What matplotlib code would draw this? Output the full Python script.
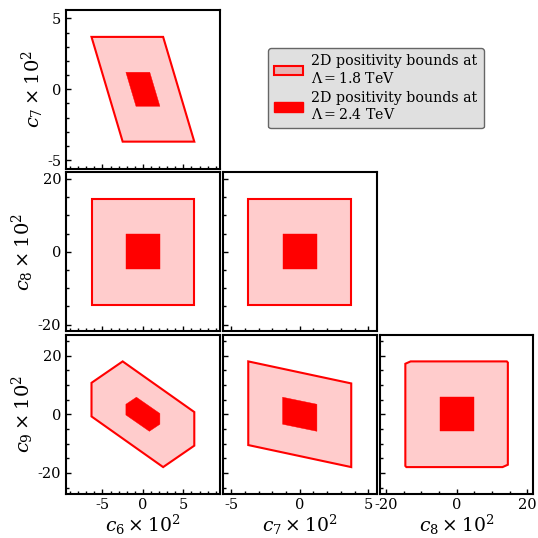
import matplotlib
matplotlib.use("Agg")
import matplotlib.pyplot as plt
from matplotlib.patches import Polygon, Patch
from matplotlib.ticker import AutoMinorLocator

plt.rcParams["font.family"] = "DejaVu Serif"
plt.rcParams["mathtext.fontset"] = "dejavuserif"
plt.rcParams["axes.unicode_minus"] = False

# coefficient names, axis limits and major ticks
names = ["c_6", "c_7", "c_8", "c_9"]
limits = [9.5, 5.6, 21.75, 27.0]
ticks = [[-5, 0, 5], [-5, 0, 5], [-20, 0, 20], [-20, 0, 20]]

# outer region: Lambda = 1.8 TeV, inner region: Lambda = 2.4 TeV
c6c7_outer_x = [-6.35, 2.5, 6.35, -2.5]
c6c7_outer_y = [3.7, 3.7, -3.7, -3.7]
c6c7_inner_x = [-2.1, 0.85, 2.1, -0.85]
c6c7_inner_y = [1.2, 1.2, -1.2, -1.2]

c6c8_outer_x = [-6.35, 6.35, 6.35, -6.35]
c6c8_outer_y = [14.5, 14.5, -14.5, -14.5]
c6c8_inner_x = [-2.1, 2.1, 2.1, -2.1]
c6c8_inner_y = [4.8, 4.8, -4.8, -4.8]

c7c8_outer_x = [-3.75, 3.75, 3.75, -3.75]
c7c8_outer_y = [14.5, 14.5, -14.5, -14.5]
c7c8_inner_x = [-1.25, 1.25, 1.25, -1.25]
c7c8_inner_y = [4.8, 4.8, -4.8, -4.8]

c6c9_outer_x = [-6.35, -2.5, 6.35, 6.35, 2.5, -6.35]
c6c9_outer_y = [10.7, 18.0, 0.75, -10.7, -18.0, -0.75]
c6c9_inner_x = [-2.1, -0.8, 2.1, 2.1, 0.8, -2.1]
c6c9_inner_y = [3.4, 5.8, 0.25, -3.4, -5.8, -0.25]

c7c9_outer_x = [-3.75, 3.75, 3.75, -3.75]
c7c9_outer_y = [18.0, 10.5, -18.0, -10.5]
c7c9_inner_x = [-1.25, 1.25, 1.25, -1.25]
c7c9_inner_y = [5.8, 3.4, -5.8, -3.4]

c8c9_outer_x = [-14.5, -13.0, 14.2, 14.5, 14.5, 13.0, -14.2, -14.5]
c8c9_outer_y = [17.2, 18.0, 18.0, 17.6, -17.2, -18.0, -18.0, -17.6]
c8c9_inner_x = [-4.8, 4.8, 4.8, -4.8]
c8c9_inner_y = [5.8, 5.8, -5.8, -5.8]

panels = {
    (0, 0): (0, 1, c6c7_outer_x, c6c7_outer_y, c6c7_inner_x, c6c7_inner_y),
    (1, 0): (0, 2, c6c8_outer_x, c6c8_outer_y, c6c8_inner_x, c6c8_inner_y),
    (1, 1): (1, 2, c7c8_outer_x, c7c8_outer_y, c7c8_inner_x, c7c8_inner_y),
    (2, 0): (0, 3, c6c9_outer_x, c6c9_outer_y, c6c9_inner_x, c6c9_inner_y),
    (2, 1): (1, 3, c7c9_outer_x, c7c9_outer_y, c7c9_inner_x, c7c9_inner_y),
    (2, 2): (2, 3, c8c9_outer_x, c8c9_outer_y, c8c9_inner_x, c8c9_inner_y),
}

light = (1.0, 0.0, 0.0, 0.2)

fig = plt.figure(figsize=(5.38, 5.38), dpi=100)
gs = fig.add_gridspec(3, 3, left=0.1227, right=0.9916, top=0.9814, bottom=0.0827,
                      wspace=0.02, hspace=0.025)

for (r, c), (ix, iy, ox, oy, inx, iny) in panels.items():
    ax = fig.add_subplot(gs[r, c])
    ax.add_patch(Polygon(list(zip(ox, oy)), closed=True, facecolor=light,
                         edgecolor="red", linewidth=1.5))
    ax.add_patch(Polygon(list(zip(inx, iny)), closed=True, facecolor="red",
                         edgecolor="red", linewidth=0.3))
    ax.set_xlim(-limits[ix], limits[ix])
    ax.set_ylim(-limits[iy], limits[iy])
    ax.set_xticks(ticks[ix])
    ax.set_yticks(ticks[iy])
    ax.xaxis.set_minor_locator(AutoMinorLocator())
    ax.yaxis.set_minor_locator(AutoMinorLocator())
    ax.tick_params(which="both", direction="in", top=False, right=False,
                   labelsize=10.5, width=1)
    ax.tick_params(which="major", length=3.5)
    ax.tick_params(which="minor", length=2)
    for s in ax.spines.values():
        s.set_linewidth(1.5)
    if r == 2:
        ax.set_xlabel(r"$%s \times 10^2$" % names[ix], fontsize=13.5, labelpad=0)
    else:
        ax.tick_params(labelbottom=False)
    if c == 0:
        ax.set_ylabel(r"$%s \times 10^2$" % names[iy], fontsize=14, labelpad=1)
    else:
        ax.tick_params(labelleft=False)

handles = [Patch(facecolor=light, edgecolor="red", linewidth=1.5),
           Patch(facecolor="red", edgecolor="red")]
labels = ["2D positivity bounds at\n$\\Lambda = 1.8$ TeV",
          "2D positivity bounds at\n$\\Lambda = 2.4$ TeV"]
leg = fig.legend(handles, labels, loc="upper left", bbox_to_anchor=(0.498, 0.911),
                 borderaxespad=0, fontsize=10.2, facecolor="#e0e0e0",
                 edgecolor="#666666", framealpha=1, fancybox=True,
                 handlelength=2.0, labelspacing=0.35, borderpad=0.45,
                 handletextpad=0.6)

fig.savefig("out.png", dpi=100)
